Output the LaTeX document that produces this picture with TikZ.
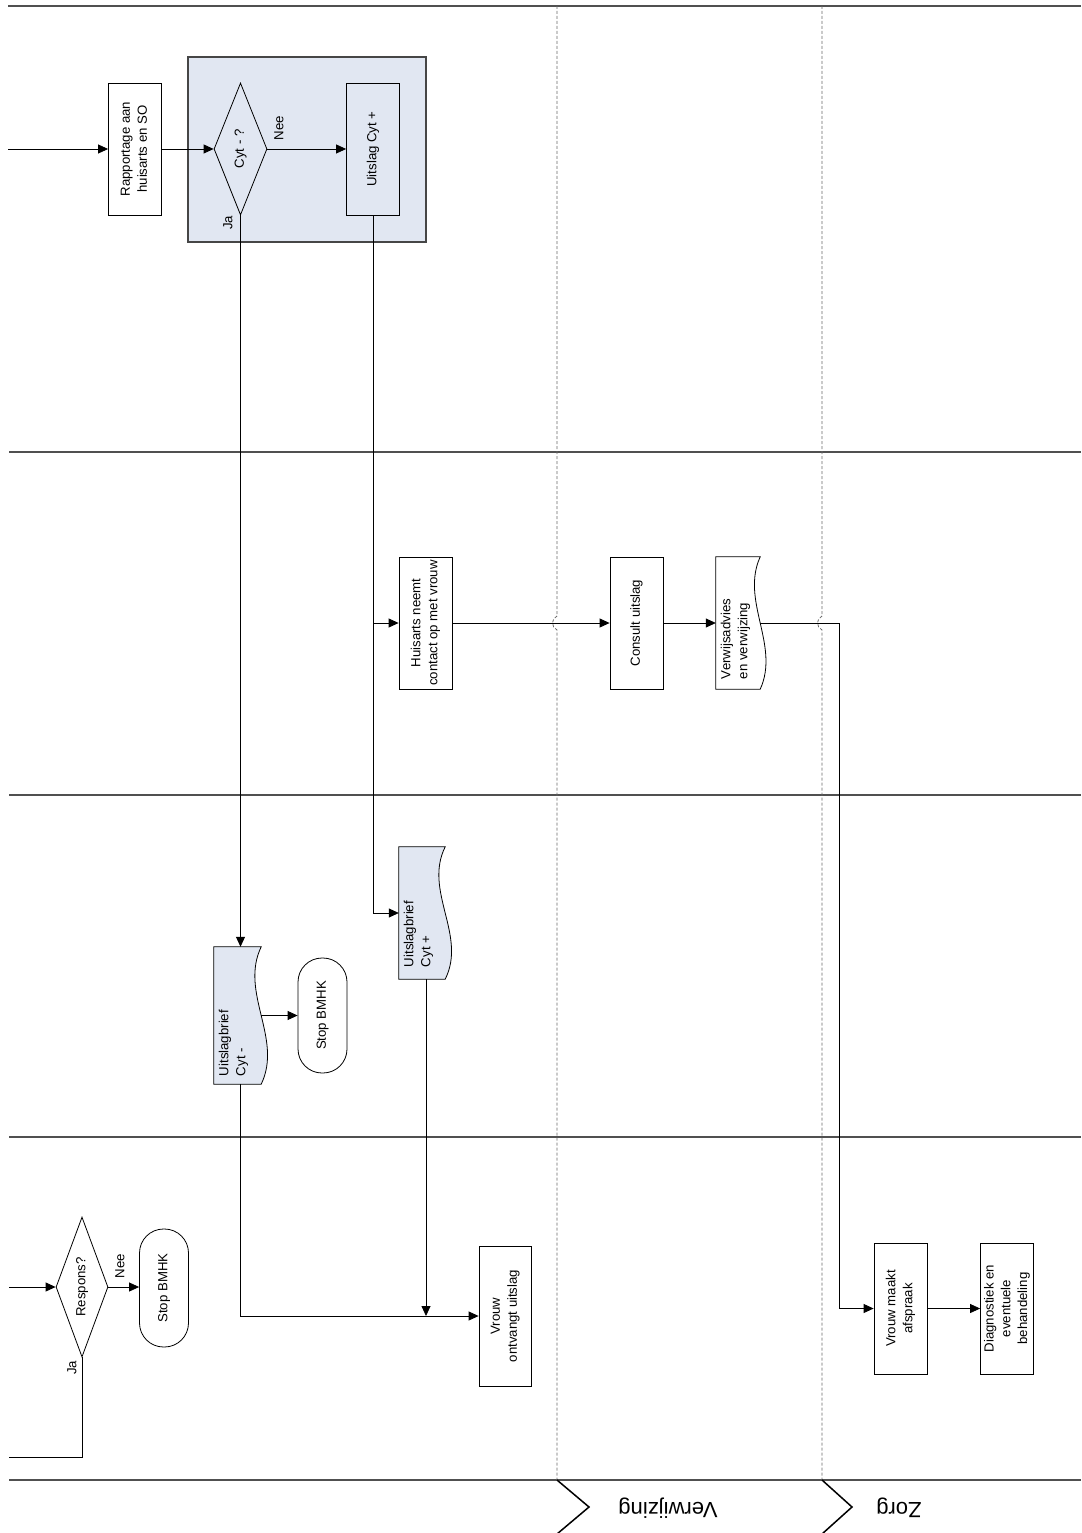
\documentclass[tikz,border=0pt]{standalone}
\usepackage{fontspec}
\setmainfont{Liberation Sans}
\usetikzlibrary{arrows.meta,shapes.geometric,calc}
\definecolor{grpblue}{HTML}{E1E7F2}
\definecolor{laneline}{HTML}{505050}
\definecolor{sepgray}{HTML}{6A6A6A}
\newcommand\rottext[1]{\rotatebox{90}{\begin{tabular}{@{}c@{}}#1\end{tabular}}}
\newcommand\rottextl[1]{\rotatebox{90}{\begin{tabular}{@{}l@{}}#1\end{tabular}}}
\newcommand\docoutline[3]{%
  \draw[line width=0.8pt, fill=#2] (#1.north east)
    .. controls ($(#1.north east)!0.333!(#1.south east)+(-#3,0)$)
       and ($(#1.north east)!0.667!(#1.south east)+(#3,0)$) .. (#1.south east)
    -- (#1.south west) -- (#1.north west) -- cycle;}
\begin{document}
\begin{tikzpicture}[x=1pt,y=-1pt,
  base/.style={font=\fontsize{13.2}{16.8}\selectfont, inner sep=0pt},
  procbox/.style={base, draw, line width=0.8pt, fill=white, minimum width=53pt, minimum height=132pt},
  decision/.style={base, draw, line width=0.8pt, diamond, aspect=0.4, minimum width=53pt, minimum height=132pt},
  terminal/.style={base, draw, line width=0.8pt, fill=white, rounded corners=24pt, minimum width=49pt},
  docanchor/.style={base, minimum height=#1},
  flow/.style={draw, line width=0.8pt, -{Triangle[length=10pt,width=9pt]}},
  plainflow/.style={draw, line width=0.8pt},
  lane/.style={draw=laneline, line width=1.4pt},
  sep/.style={draw=sepgray, line width=0.8pt, dash pattern=on 3pt off 2pt},
  lbl/.style={base},
  lanelbl/.style={font=\fontsize{22}{26}\selectfont, inner sep=0pt, rotate=180},
  chev/.style={draw, line width=1.5pt}
]
\useasboundingbox (0,0) rectangle (1081,1533);

% swimlane lines
\draw[lane] (8,6) -- (1081,6);
\foreach \yy in {452,795,1137,1480} \draw[lane] (9,\yy) -- (1081,\yy);
% dashed phase separators with jumps
\draw[sep] (557,6) -- (557,616) .. controls (551,619) and (551,627) .. (557,630) -- (557,1480);
\draw[sep] (822,6) -- (822,616) .. controls (816,619) and (816,627) .. (822,630) -- (822,1480);
% chevrons and phase labels
\draw[chev] (557,1480) -- (589,1507) -- (557,1534);
\draw[chev] (822,1480) -- (852,1507) -- (822,1534);
\node[lanelbl] (lblverw) at (668,1508) {Verwijzing};
\node[lanelbl] (lblzorg) at (899,1508) {Zorg};

% group box
\node[draw=gray!55!black, line width=1.2pt, fill=grpblue, minimum width=238pt, minimum height=185pt] (grp) at (307,149.5) {};

% nodes
\node[procbox] (rapport) at (135,149) {\rottext{Rapportage aan\\huisarts en SO}};
\node[decision, fill=grpblue] (cytq) at (240.5,149) {\rottext{Cyt - ?}};
\node[procbox, fill=grpblue] (uitpos) at (373,149) {\rottext{Uitslag Cyt +}};
\node[procbox] (huisarts) at (425.5,623) {\rottext{Huisarts neemt\\contact op met vrouw}};
\node[procbox] (consult) at (636.5,623) {\rottext{Consult uitslag}};
\node[docanchor=132pt, minimum width=44pt] (verwijs) at (738,623) {};
\docoutline{verwijs}{white}{20}
\node[lbl, anchor=south] (verwijstxt) at ($(verwijs.south)+(-2.5,-10)$) {\rottextl{Verwijsadvies\\en verwijzing}};

\node[docanchor=137pt, minimum width=47pt] (cytmin) at (237.5,1015.5) {};
\docoutline{cytmin}{grpblue}{22}
\node[lbl, anchor=south] (cytmintxt) at ($(cytmin.south)+(-4,-8)$) {\rottextl{Uitslagbrief\\Cyt -}};
\node[terminal, minimum height=115pt] (stop1) at (322.5,1015.5) {\rottext{Stop BMHK}};

\node[docanchor=132pt, minimum width=46pt] (cytpos) at (422,913) {};
\docoutline{cytpos}{grpblue}{22}
\node[lbl, anchor=south] (cytpostxt) at ($(cytpos.south)+(-3.5,-12)$) {\rottextl{Uitslagbrief\\Cyt +}};

\node[procbox, minimum width=52pt, minimum height=140pt] (vrouwontv) at (505,1316) {\rottext{Vrouw\\ontvangt uitslag}};
\node[procbox, minimum height=131pt] (vrouwmaakt) at (900.5,1308.5) {\rottext{Vrouw maakt\\afspraak}};
\node[procbox, minimum height=131pt] (diag) at (1007,1308.5) {\rottext{Diagnostiek en\\eventuele\\behandeling}};

\node[decision, minimum width=52pt, minimum height=140pt, aspect=0.37] (respons) at (82,1287) {\rottext{Respons?}};
\node[terminal, minimum height=118pt] (stop2) at (164,1288) {\rottext{Stop BMHK}};

% labels
\node[lbl] (nee1) at (280,128) {\rottext{Nee}};
\node[lbl] (ja1) at (229,223) {\rottext{Ja}};
\node[lbl] (nee2) at (121,1266) {\rottext{Nee}};
\node[lbl] (ja2) at (73,1368) {\rottext{Ja}};

% connectors
\coordinate (in1) at (8,149);
\draw[flow] (in1) -- (rapport.west);
\draw[flow] (rapport.east) -- (cytq.west);
\draw[flow] (cytq.east) -- (uitpos.west);
\draw[flow] (cytq.south) -- (cytq.south |- cytmin.north);
\draw[flow] (uitpos.south) |- (huisarts.west);
\draw[flow] (uitpos.south) |- (cytpos.west);
\draw[flow] (huisarts.east) -- (consult.west);
\draw[flow] (consult.east) -- (verwijs.west);
\coordinate (vbend) at (839,623);
\draw[flow] (verwijs.east) -- (vbend) |- (vrouwmaakt.west);
\draw[flow] (vrouwmaakt.east) -- (diag.west);
\draw[flow] (cytmin.east) -- (stop1.west);
\draw[flow] (cytq.south |- cytmin.south) |- (vrouwontv.west);
\coordinate (cpb) at ($(cytpos.south)+(4,0)$);
\draw[flow] (cpb) -- (cpb |- vrouwontv.west);
\coordinate (in2) at (9,1287);
\draw[flow] (in2) -- (respons.west);
\draw[flow] (respons.east) -- (respons.east -| stop2.west);
\coordinate (out2) at (9,1457);
\draw[plainflow] (respons.south) |- (out2);
\end{tikzpicture}
\end{document}
